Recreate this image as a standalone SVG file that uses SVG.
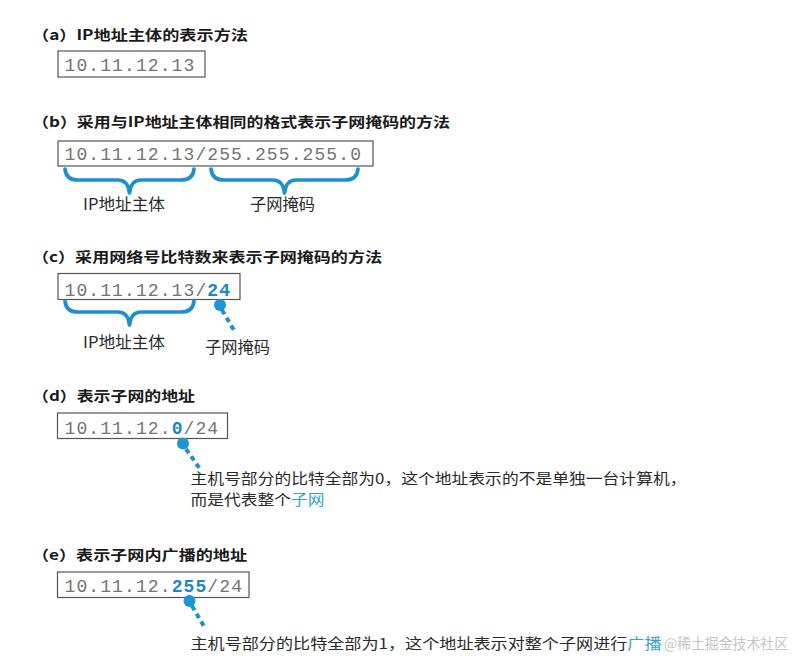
<svg xmlns="http://www.w3.org/2000/svg" width="803" height="661" viewBox="0 0 803 661">
<style>
  .title { font-family: "Noto Sans CJK SC", "Noto Sans", sans-serif; font-size: 14px; font-weight: bold; fill: #1a1a1a; }
  .label { font-family: "Noto Sans CJK SC", "Noto Sans", sans-serif; font-size: 16px; fill: #2a2a2a; }
  .body { font-family: "Noto Sans CJK SC", "Noto Sans", sans-serif; font-size: 14.5px; fill: #2a2a2a; }
  .hl { fill: #3aa3c8; }
  .mono { font-family: "Liberation Mono", "DejaVu Sans Mono", monospace; font-size: 18px; fill: #747474; letter-spacing: 1.1px; }
  .mb { font-weight: bold; fill: #1d86c4; }
  .box { fill: #ffffff; stroke: #555555; stroke-width: 1.2; }
  .brace { fill: none; stroke: #1f90cf; stroke-width: 3.7; stroke-linecap: round; stroke-linejoin: round; }
  .dot { fill: #1f95d6; }
  .dash { stroke: #1f90cf; stroke-width: 4; stroke-dasharray: 5 4; fill: none; }
  .wm { font-family: "Noto Sans CJK SC", sans-serif; font-size: 14.5px; fill: #c6c6c6; }
</style>
<rect x="0" y="0" width="803" height="661" fill="#ffffff"/>

<g id="section-a">
  <text class="title" x="32" y="40" textLength="216" lengthAdjust="spacingAndGlyphs">（a）IP地址主体的表示方法</text>
  <g id="box-a">
    <rect class="box" x="58" y="51" width="147" height="26"/>
    <text class="mono" x="64.5" y="71">10.11.12.13</text>
  </g>
</g>

<g id="section-b">
  <text class="title" x="32" y="126.5" textLength="418" lengthAdjust="spacingAndGlyphs">（b）采用与IP地址主体相同的格式表示子网掩码的方法</text>
  <g id="box-b">
    <rect class="box" x="58" y="141" width="315" height="25"/>
    <text class="mono" x="64.5" y="160">10.11.12.13/255.255.255.0</text>
  </g>
  <g id="label-b-ip">
    <text class="label" x="83" y="210" textLength="82" lengthAdjust="spacingAndGlyphs">IP地址主体</text>
  </g>
  <g id="label-b-mask">
    <text class="label" x="250" y="210" textLength="65" lengthAdjust="spacingAndGlyphs">子网掩码</text>
  </g>
</g>

<g id="section-c">
  <text class="title" x="32" y="262" textLength="350" lengthAdjust="spacingAndGlyphs">（c）采用网络号比特数来表示子网掩码的方法</text>
  <g id="box-c">
    <rect class="box" x="58" y="273.5" width="182" height="26"/>
    <text class="mono" x="64.5" y="296">10.11.12.13/<tspan class="mb">24</tspan></text>
  </g>
  <g id="label-c-ip">
    <text class="label" x="83" y="348" textLength="82" lengthAdjust="spacingAndGlyphs">IP地址主体</text>
  </g>
  <g id="label-c-mask">
    <text class="label" x="205" y="353" textLength="65" lengthAdjust="spacingAndGlyphs">子网掩码</text>
  </g>
</g>

<g id="section-d">
  <text class="title" x="32" y="401" textLength="163" lengthAdjust="spacingAndGlyphs">（d）表示子网的地址</text>
  <g id="box-d">
    <rect class="box" x="57.5" y="413" width="170" height="25.5"/>
    <text class="mono" x="64.5" y="434">10.11.12.<tspan class="mb">0</tspan>/24</text>
  </g>
  <g id="note-d">
    <text class="body" x="190.5" y="483.5" textLength="496" lengthAdjust="spacingAndGlyphs">主机号部分的比特全部为0，这个地址表示的不是单独一台计算机，</text>
    <text class="body" x="190.5" y="505" textLength="134" lengthAdjust="spacingAndGlyphs">而是代表整个<tspan class="hl">子网</tspan></text>
  </g>
</g>

<g id="section-e">
  <text class="title" x="32" y="560" textLength="215" lengthAdjust="spacingAndGlyphs">（e）表示子网内广播的地址</text>
  <g id="box-e">
    <rect class="box" x="57.5" y="572" width="191.5" height="25.5"/>
    <text class="mono" x="64.5" y="591.5">10.11.12.<tspan class="mb">255</tspan>/24</text>
  </g>
  <g id="note-e">
    <text class="body" x="190.5" y="649" textLength="471" lengthAdjust="spacingAndGlyphs">主机号部分的比特全部为1，这个地址表示对整个子网进行<tspan class="hl">广播</tspan></text>
  </g>
</g>

<g id="connectors">
  <path class="brace" d="M65,169 Q66,180 78,180 L118,180 Q128,180 129.5,193 Q131,180 141,180 L181,180 Q193,180 194,169"/>
  <path class="brace" d="M211,169 Q212,180 224,180 L273,180 Q283,180 284.5,193 Q286,180 296,180 L345,180 Q357,180 358,169"/>
  <path class="brace" d="M65,301 Q66,312 78,312 L118,312 Q128,312 129.5,325 Q131,312 141,312 L181,312 Q193,312 194,301"/>
  <circle class="dot" cx="220" cy="305" r="6"/>
  <line class="dash" x1="222" y1="310" x2="235" y2="332"/>
  <circle class="dot" cx="183" cy="443.5" r="6"/>
  <line class="dash" x1="186" y1="449" x2="200" y2="469"/>
  <circle class="dot" cx="189.5" cy="601" r="6"/>
  <line class="dash" x1="192" y1="606" x2="205" y2="628"/>
</g>

<text class="wm" x="664" y="649" textLength="124" lengthAdjust="spacingAndGlyphs">@稀土掘金技术社区</text>
</svg>
